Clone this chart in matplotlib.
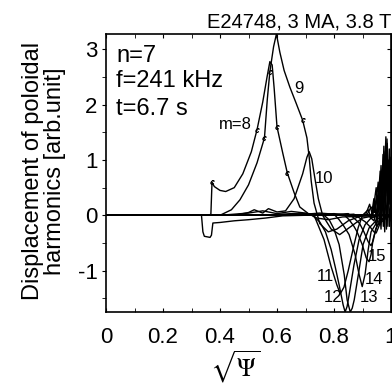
#! /usr/bin/python

import numpy as np
import matplotlib
matplotlib.use('Agg')
import matplotlib.pyplot as plt

plt.rcParams['font.family'] = ['Liberation Sans', 'DejaVu Sans']
plt.rcParams['mathtext.fontset'] = 'stix'
plt.rcParams['axes.unicode_minus'] = False

# poloidal harmonics (x = sqrt(psi), y = displacement)
m7_x = [0.0, 0.335, 0.34, 0.345, 0.365, 0.37, 0.375, 0.40, 0.45, 0.50, 0.56, 0.62, 0.70, 0.80, 1.0]
m7_y = [0.0, 0.0, -0.3, -0.38, -0.4, -0.36, -0.14, -0.13, -0.1, -0.08, -0.05, -0.01, 0.0, 0.0, 0.0]

m8_x = [0.0, 0.36, 0.368, 0.372, 0.38, 0.40, 0.42, 0.45, 0.48, 0.51, 0.53, 0.55, 0.565,
        0.575, 0.583, 0.59, 0.60, 0.62, 0.636, 0.66, 0.68, 0.71, 0.74, 0.78, 0.83, 1.0]
m8_y = [0.0, 0.0, 0.02, 0.6, 0.52, 0.45, 0.43, 0.5, 0.75, 1.15, 1.55, 2.05, 2.5,
        2.78, 2.72, 2.3, 1.6, 1.13, 0.77, 0.41, 0.15, 0.03, -0.05, -0.08, -0.03, 0.0]

m9_x = [0.0, 0.40, 0.44, 0.47, 0.50, 0.53, 0.556, 0.566, 0.575, 0.588, 0.598, 0.61, 0.625,
        0.645, 0.667, 0.69, 0.705, 0.713, 0.72, 0.73, 0.75, 0.78, 0.81, 0.85, 0.90, 1.0]
m9_y = [0.0, 0.0, 0.1, 0.28, 0.55, 0.95, 1.4, 2.1, 2.6, 3.05, 3.28, 2.95, 2.62,
        2.32, 2.03, 1.72, 1.4, 1.05, 0.62, 0.22, -0.15, -0.3, -0.25, -0.1, 0.0, 0.0]

m10_x = [0.0, 0.45, 0.50, 0.52, 0.55, 0.57, 0.60, 0.63, 0.66, 0.69, 0.705, 0.713, 0.722,
         0.732, 0.745, 0.76, 0.79, 0.82, 0.86, 0.90, 0.95, 1.0]
m10_y = [0.0, 0.0, 0.05, 0.1, 0.04, 0.12, 0.06, 0.08, 0.3, 0.75, 1.05, 1.15, 1.02,
         0.7, 0.3, 0.0, -0.25, -0.35, -0.2, -0.05, 0.0, 0.0]

m11_x = [0.0, 0.40, 0.50, 0.55, 0.60, 0.65, 0.70, 0.73, 0.765, 0.79, 0.81, 0.822, 0.835,
         0.85, 0.87, 0.885, 0.90, 0.95, 1.0]
m11_y = [0.0, 0.0, 0.04, 0.08, 0.03, 0.07, 0.04, 0.0, -0.44, -0.93, -1.26, -1.42, -1.3,
         -1.0, -0.54, -0.22, 0.0, 0.0, 0.0]

m12_x = [0.0, 0.55, 0.65, 0.72, 0.75, 0.77, 0.79, 0.805, 0.818, 0.832, 0.839, 0.846, 0.853,
         0.87, 0.888, 0.909, 0.93, 0.96, 1.0]
m12_y = [0.0, 0.0, 0.03, 0.02, -0.12, -0.3, -0.62, -0.95, -1.26, -1.62, -1.75, -1.65, -1.44,
         -0.9, -0.44, -0.17, -0.05, 0.0, 0.0]

m13_x = [0.0, 0.60, 0.70, 0.76, 0.783, 0.80, 0.818, 0.836, 0.846, 0.857, 0.864, 0.871,
         0.888, 0.902, 0.923, 0.951, 0.97, 1.0]
m13_y = [0.0, 0.0, 0.03, 0.02, -0.08, -0.25, -0.53, -1.08, -1.53, -1.75, -1.68, -1.53,
         -0.99, -0.53, -0.23, -0.08, 0.0, 0.0]

m14_x = [0.0, 0.65, 0.75, 0.80, 0.818, 0.835, 0.853, 0.874, 0.888, 0.899, 0.909, 0.92,
         0.93, 0.951, 0.976, 1.0]
m14_y = [0.0, 0.0, 0.04, 0.02, -0.08, -0.2, -0.35, -0.71, -1.07, -1.29, -1.07, -0.62,
         -0.3, -0.12, -0.05, 0.0]

m15_x = [0.0, 0.70, 0.80, 0.835, 0.853, 0.87, 0.881, 0.899, 0.913, 0.923, 0.93, 0.937,
         0.951, 0.976, 1.0]
m15_y = [0.0, 0.0, 0.03, 0.01, -0.08, -0.2, -0.3, -0.53, -0.77, -0.84, -0.71, -0.44,
         -0.19, -0.08, 0.0]

m16_x = [0.0, 0.75, 0.85, 0.87, 0.89, 0.905, 0.92, 0.93, 0.938, 0.946, 0.96, 0.98, 1.0]
m16_y = [0.0, 0.0, 0.03, -0.05, -0.15, -0.3, -0.48, -0.55, -0.45, -0.25, -0.1, -0.03, 0.0]

m17_x = [0.0, 0.80, 0.87, 0.89, 0.91, 0.925, 0.94, 0.948, 0.956, 0.965, 0.98, 1.0]
m17_y = [0.0, 0.0, 0.02, -0.05, -0.12, -0.2, -0.3, -0.32, -0.22, -0.1, -0.03, 0.0]

# high-m harmonics piled up near the edge
h1_x = [0.0, 0.90, 0.92, 0.93, 0.94, 0.945, 0.955, 0.96, 0.965, 0.97, 0.975, 0.98, 0.985, 0.99, 1.0]
h1_y = [0.0, 0.0, 0.1, -0.05, 0.3, 0.05, 0.6, 0.2, 0.9, 0.4, 1.25, 0.6, 1.1, 0.3, 0.5]
h2_x = [0.0, 0.91, 0.925, 0.935, 0.948, 0.953, 0.962, 0.967, 0.972, 0.976, 0.982, 0.986, 0.992, 0.996, 1.0]
h2_y = [0.0, 0.0, 0.2, 0.0, 0.5, 0.1, 0.8, 0.3, 1.1, 0.5, 1.42, 0.7, 1.0, 0.2, 0.6]
h3_x = [0.0, 0.92, 0.94, 0.955, 0.96, 0.968, 0.973, 0.978, 0.984, 0.99, 0.995, 1.0]
h3_y = [0.0, 0.0, -0.1, 0.2, -0.15, 0.5, -0.2, 0.9, -0.25, 0.7, -0.2, 0.3]
h4_x = [0.0, 0.915, 0.93, 0.942, 0.95, 0.958, 0.964, 0.97, 0.977, 0.981, 0.987, 0.99, 0.995, 1.0]
h4_y = [0.0, 0.0, 0.15, 0.05, 0.4, 0.15, 0.7, 0.25, 1.0, 0.35, 1.3, 0.5, 0.9, 0.1]
h5_x = [0.0, 0.93, 0.945, 0.95, 0.96, 0.966, 0.974, 0.979, 0.983, 0.988, 0.993, 1.0]
h5_y = [0.0, 0.0, 0.25, -0.1, 0.55, 0.0, 0.8, 0.1, 1.2, 0.2, 0.8, -0.1]
h6_x = [0.0, 0.935, 0.944, 0.952, 0.957, 0.963, 0.969, 0.975, 0.98, 0.986, 0.991, 0.997, 1.0]
h6_y = [0.0, 0.0, 0.15, 0.35, 0.1, 0.65, 0.2, 1.15, 0.3, 1.38, 0.45, 1.05, 0.4]
h7_x = [0.0, 0.94, 0.95, 0.958, 0.965, 0.971, 0.978, 0.983, 0.989, 0.994, 1.0]
h7_y = [0.0, 0.0, -0.2, 0.3, -0.25, 0.6, -0.3, 1.0, -0.2, 1.2, 0.2]

curves = [(m7_x, m7_y), (m10_x, m10_y),
          (m11_x, m11_y), (m12_x, m12_y), (m13_x, m13_y), (m14_x, m14_y),
          (m15_x, m15_y), (m16_x, m16_y), (m17_x, m17_y),
          (h1_x, h1_y), (h2_x, h2_y), (h3_x, h3_y), (h4_x, h4_y), (h5_x, h5_y),
          (h6_x, h6_y), (h7_x, h7_y)]

# the small marks the plotting code left on m=8 and m=9 (indices into the lists)
m8_marks = [3, 10, 16, 18]
m9_marks = [6, 8, 15]

labels = ['m=8', '9', '10', '11', '12', '13', '14', '15']
label_x = [0.455, 0.678, 0.766, 0.769, 0.797, 0.923, 0.94, 0.951]
label_y = [1.65, 2.30, 0.66, -1.11, -1.49, -1.49, -1.17, -0.75]

x_ticks = [0, 0.2, 0.4, 0.6, 0.8, 1]
x_ticklabels = ['0', '0.2', '0.4', '0.6', '0.8', '1']
y_ticks = [-1, 0, 1, 2, 3]


def main():
    fig = plt.figure(figsize=(3.92, 3.85), dpi=100)
    ax = fig.add_axes([106 / 392, 1 - 312 / 385, 285 / 392, 278 / 385])

    for x, y in curves:
        ax.plot(x, y, color='black', lw=1.0)
    ax.plot(m8_x, m8_y, color='black', lw=1.0, marker='$c$', markersize=3,
            markeredgewidth=0.4, markevery=m8_marks)
    ax.plot(m9_x, m9_y, color='black', lw=1.0, marker='$c$', markersize=3,
            markeredgewidth=0.4, markevery=m9_marks)

    for s, x, y in zip(labels, label_x, label_y):
        ax.text(x, y, s, fontsize=12, ha='center', va='center')

    ax.text(0.035, 0.899, 'n=7', transform=ax.transAxes, fontsize=17, va='baseline')
    ax.text(0.035, 0.809, 'f=241 kHz', transform=ax.transAxes, fontsize=17, va='baseline')
    ax.text(0.035, 0.709, 't=6.7 s', transform=ax.transAxes, fontsize=17, va='baseline')

    ax.set_xlim(0, 1)
    ax.set_ylim(-1.75, 3.28)
    ax.set_xticks(x_ticks)
    ax.set_xticklabels(x_ticklabels)
    ax.set_xticks(np.arange(0, 1.01, 0.1), minor=True)
    ax.set_yticks(y_ticks)
    ax.set_yticks(np.arange(-1.5, 3.1, 0.5), minor=True)
    ax.tick_params(axis='x', which='both', direction='in', top=True, length=3,
                   labelsize=16, pad=11)
    ax.tick_params(axis='y', which='both', direction='out', length=3,
                   labelsize=16, pad=3)
    sec = ax.secondary_yaxis('right')
    sec.set_yticks(np.arange(-1.5, 3.1, 0.5))
    sec.tick_params(direction='in', length=3, labelright=False)
    for sp in ax.spines.values():
        sp.set_linewidth(1.2)

    ax.set_title('E24748, 3 MA, 3.8 T', loc='right', fontsize=14.5, pad=5)

    fig.text(44 / 392, 1 - 171 / 385,
             'Displacement of poloidal\nharmonics [arb.unit]',
             rotation=90, ha='center', va='center', fontsize=17, linespacing=1.05)
    fig.text(235 / 392, 1 - 367 / 385, r'$\sqrt{\Psi}$', ha='center', va='center',
             fontsize=18)

    fig.savefig('out.png', dpi=100)


if __name__ == '__main__':
    main()
